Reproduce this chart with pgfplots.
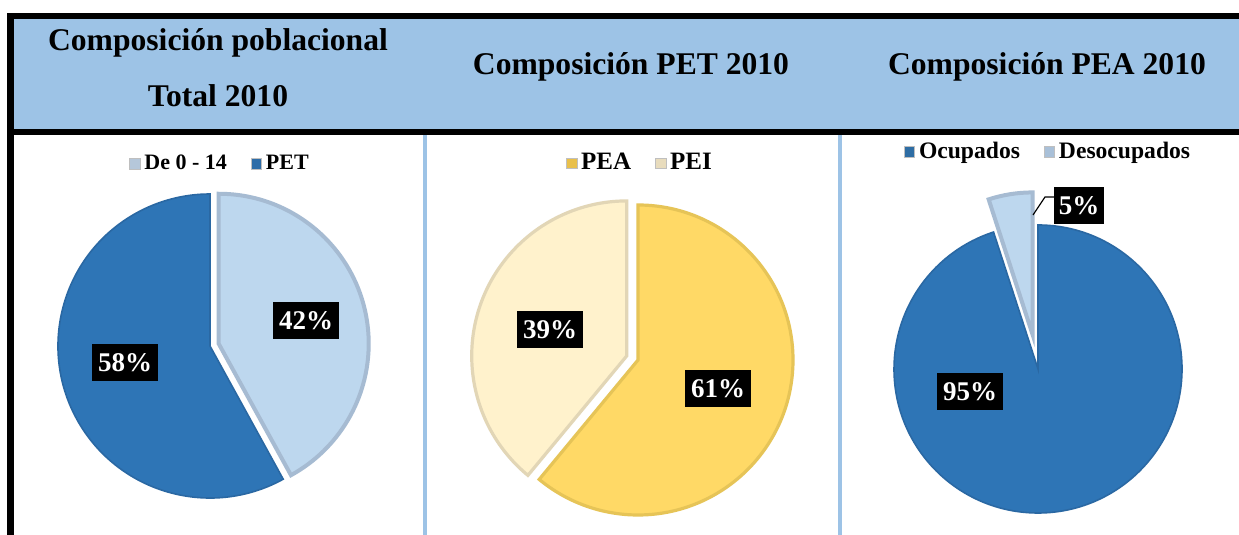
\documentclass[border=0pt]{standalone}
\usepackage{pgfplots}
\pgfplotsset{compat=1.18}
\usepackage{pgfplotstable}
\usepackage{fontspec}
\setmainfont{Liberation Serif}

\definecolor{hdr}{HTML}{9DC3E6}
\definecolor{dblue}{HTML}{2E75B6}
\definecolor{dblueB}{HTML}{2A68A3}
\definecolor{lblue}{HTML}{BDD7EE}
\definecolor{lblueB}{HTML}{A6BBD2}
\definecolor{yel}{HTML}{FFD966}
\definecolor{yelB}{HTML}{E6C457}
\definecolor{crm}{HTML}{FFF2CC}
\definecolor{crmB}{HTML}{E2D6B6}
\definecolor{legA}{HTML}{B5C7DA}
\definecolor{legB}{HTML}{2E6DA8}
\definecolor{legC}{HTML}{E9C04B}
\definecolor{legD}{HTML}{E8DCBD}
\definecolor{legE}{HTML}{2E6DA4}
\definecolor{legF}{HTML}{A9C0D8}

% ---- data (percent) ----
\pgfplotstableread{
cat pct
De014 42
PET 58
}\tabA
\pgfplotstableread{
cat pct
PEA 61
PEI 39
}\tabB
\pgfplotstableread{
cat pct
Ocupados 95
Desocupados 5
}\tabC
\pgfplotstablegetelem{0}{pct}\of\tabA \edef\pAa{\pgfplotsretval}
\pgfplotstablegetelem{1}{pct}\of\tabA \edef\pAb{\pgfplotsretval}
\pgfplotstablegetelem{0}{pct}\of\tabB \edef\pBa{\pgfplotsretval}
\pgfplotstablegetelem{1}{pct}\of\tabB \edef\pBb{\pgfplotsretval}
\pgfplotstablegetelem{0}{pct}\of\tabC \edef\pCa{\pgfplotsretval}
\pgfplotstablegetelem{1}{pct}\of\tabC \edef\pCb{\pgfplotsretval}

% sector: cx, cy, r, start angle, end angle, explode, style   (units: px, 1px=0.5pt)
\newcommand\sector[7]{%
  \draw[#7] (axis cs:#1,#2) ++({((#4)+(#5))/2}:{#6*0.5pt}) -- ++({#4}:{#3*0.5pt})
     arc[start angle={#4}, end angle={#5}, radius={#3*0.5pt}] -- cycle;}

\tikzset{
  lbl/.style={fill=black, text=white, font=\fontsize{13.5}{15}\selectfont\bfseries,
    inner xsep=3pt, inner ysep=0pt, minimum height=18.5pt},
  ttl/.style={font=\fontsize{15.8}{18}\selectfont\bfseries, inner sep=0pt}
}
\pgfplotsset{
  panel/.style={at={(0,0)}, anchor=south west, scale only axis,
    width=619.5pt, height=267.5pt, xmin=0, xmax=1239, ymin=0, ymax=535,
    hide axis, clip=false, legend columns=2,
    legend image code/.code={\filldraw[##1, draw=black!25, line width=0.3pt] (0pt,-2.6pt) rectangle (5.2pt,2.6pt);},
    legend style={draw=none, fill=none, anchor=center, inner sep=0pt,
      /tikz/every even column/.append style={column sep=10pt},
      nodes={inner xsep=2pt}}}
}

\begin{document}
\begin{tikzpicture}
% ===== panel 1 (with table background) =====
\begin{axis}[panel,
  legend style={at={(axis description cs:0.1784,0.6935)},
    font=\fontsize{11}{12}\selectfont\bfseries}]
\fill[white] (axis cs:0,0) rectangle (axis cs:1239,535);
\fill[hdr] (axis cs:14,406) rectangle (axis cs:1239,516);
\fill[black] (axis cs:7,516) rectangle (axis cs:1239,522);
\fill[black] (axis cs:7,400) rectangle (axis cs:1239,406);
\fill[black] (axis cs:7,0) rectangle (axis cs:14,522);
\fill[hdr] (axis cs:423,0) rectangle (axis cs:427,400);
\fill[hdr] (axis cs:838,0) rectangle (axis cs:842,400);
\node[ttl] at (axis cs:218,492) {Composición poblacional};
\node[ttl] at (axis cs:218,439) {Total 2010};
\node[ttl] at (axis cs:631,468) {Composición PET 2010};
\node[ttl] at (axis cs:1047,468) {Composición PEA 2010};
\addlegendimage{fill=legA}\addlegendentry{De 0 - 14}
\addlegendimage{fill=legB}\addlegendentry{PET}
\sector{210}{189}{152}{90-3.6*\pAa}{90-3.6*(\pAa+\pAb)}{0}{fill=dblue, draw=dblueB, line width=0.8pt}
\sector{210}{189}{150}{90}{90-3.6*\pAa}{9}{fill=lblue, draw=lblueB, line width=2pt}
\node[lbl] at (axis cs:306,214) {\pAa\%};
\node[lbl] at (axis cs:125,172) {\pAb\%};
\end{axis}
% ===== panel 2 =====
\begin{axis}[panel,
  legend style={at={(axis description cs:0.5173,0.6953)},
    font=\fontsize{12.5}{14}\selectfont\bfseries}]
\addlegendimage{fill=legC}\addlegendentry{PEA}
\addlegendimage{fill=legD}\addlegendentry{PEI}
\sector{638}{175}{155}{90}{90-3.6*\pBa}{0}{fill=yel, draw=yelB, line width=1.6pt}
\sector{638}{175}{155}{90-3.6*\pBa}{90-3.6*(\pBa+\pBb)}{12}{fill=crm, draw=crmB, line width=1.6pt}
\node[lbl] at (axis cs:718,146) {\pBa\%};
\node[lbl] at (axis cs:550,205) {\pBb\%};
\end{axis}
% ===== panel 3 =====
\begin{axis}[panel,
  legend style={at={(axis description cs:0.8467,0.7159)},
    font=\fontsize{11.8}{13}\selectfont\bfseries}]
\addlegendimage{fill=legE}\addlegendentry{Ocupados}
\addlegendimage{fill=legF}\addlegendentry{Desocupados}
\sector{1038}{166}{144}{90}{90-3.6*\pCa}{0}{fill=dblue, draw=dblueB, line width=0.8pt}
\sector{1038}{166}{142}{90-3.6*\pCa}{90-3.6*(\pCa+\pCb)}{35}{fill=lblue, draw=lblueB, line width=2pt}
\draw[black, line width=0.6pt] (axis cs:1033,320) -- (axis cs:1045,338) -- (axis cs:1056,338);
\node[lbl, inner xsep=2.5pt] at (axis cs:1079,329) {\pCb\%};
\node[lbl] at (axis cs:970,143) {\pCa\%};
\end{axis}
\end{tikzpicture}
\end{document}
